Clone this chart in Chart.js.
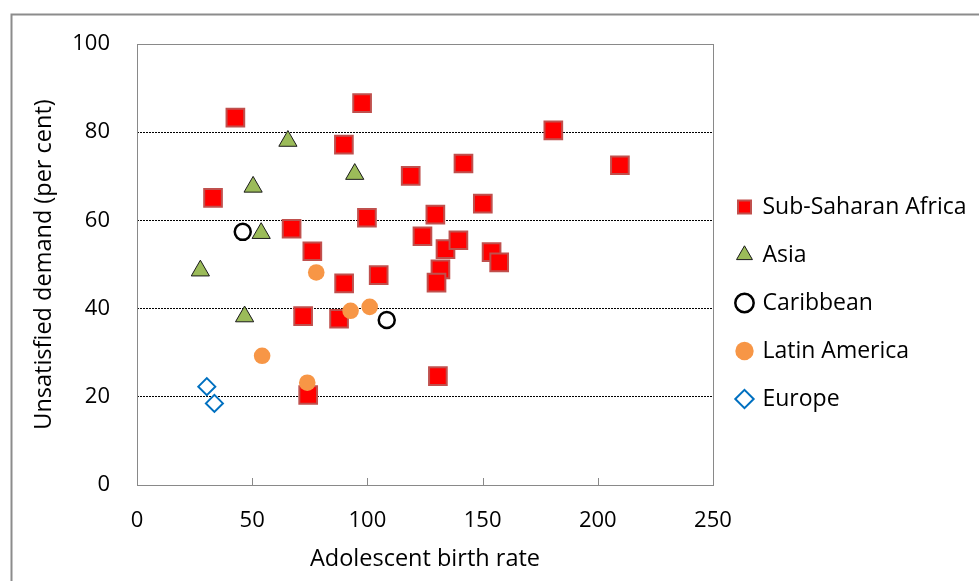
<!DOCTYPE html>
<html>
<head>
<meta charset="utf-8">
<script src="https://cdn.jsdelivr.net/npm/chart.js@4/dist/chart.umd.min.js"></script>
<style>
  html, body { margin: 0; padding: 0; background: #fff; overflow: hidden; }
  #wrap { position: absolute; left: 0; top: 0; width: 979px; height: 581px; }
</style>
</head>
<body>
<div id="wrap"><canvas id="c" width="979" height="581"></canvas></div>
<script>
// ---- Data ----
const seriesNames = ['Sub-Saharan Africa', 'Asia', 'Caribbean', 'Latin America', 'Europe'];

const ssaX = [42.7, 97.7, 89.8, 118.8, 33.0, 67.1, 99.8, 76.1, 123.9, 180.7, 209.6, 141.7, 150.1, 129.5, 133.9, 139.5, 153.9, 157.2, 131.7, 130.0, 130.6, 89.9, 104.9, 72.1, 87.7, 74.3];
const ssaY = [83.3, 86.6, 77.2, 70.1, 65.1, 58.1, 60.6, 53.0, 56.4, 80.4, 72.5, 72.9, 63.8, 61.3, 53.5, 55.5, 52.8, 50.5, 48.9, 45.9, 24.7, 45.7, 47.6, 38.3, 37.7, 20.4];

const asiaX = [65.5, 94.5, 50.4, 53.9, 27.5, 46.7];
const asiaY = [78.0, 70.5, 67.6, 57.1, 48.6, 38.2];

const caribX = [45.9, 108.4];
const caribY = [57.4, 37.4];

const latamX = [77.8, 92.7, 101.0, 54.3, 73.9];
const latamY = [48.2, 39.5, 40.4, 29.3, 23.2];

const europeX = [30.3, 33.6];
const europeY = [22.3, 18.5];

const xTickValues = [0, 50, 100, 150, 200, 250];
const yTickValues = [0, 20, 40, 60, 80, 100];

const toPts = (xs, ys) => xs.map((x, i) => ({x: x, y: ys[i]}));

const FONT = 'Open Sans';
const FS = 22;     // tick labels
const FT = 23.5;   // axis titles
const FL = 23;     // legend

// decoration: outer frame, plot border, inside x tick marks
const frame = {
  id: 'frame',
  beforeDraw(chart) {
    const ctx = chart.ctx;
    ctx.save();
    ctx.fillStyle = '#fff';
    ctx.fillRect(0, 0, chart.width, chart.height);
    ctx.strokeStyle = '#8c8c8c';
    ctx.lineWidth = 2;
    ctx.strokeRect(11.5, 14.5, chart.width + 20, chart.height + 20);
    ctx.restore();
  },
  beforeDatasetsDraw(chart) {
    const ctx = chart.ctx, a = chart.chartArea, xs = chart.scales.x;
    ctx.save();
    ctx.strokeStyle = '#898989';
    ctx.lineWidth = 1;
    ctx.strokeRect(Math.round(a.left) + 0.5, Math.round(a.top) + 0.5, Math.round(a.right - a.left), Math.round(a.bottom - a.top));
    ctx.beginPath();
    xs.ticks.forEach(t => {
      const px = Math.round(xs.getPixelForValue(t.value)) + 0.5;
      ctx.moveTo(px, a.bottom);
      ctx.lineTo(px, a.bottom - 7);
    });
    ctx.stroke();
    ctx.restore();
  }
};

new Chart(document.getElementById('c'), {
  type: 'scatter',
  data: {
    datasets: [
      { label: seriesNames[0], data: toPts(ssaX, ssaY), order: 5,
        pointStyle: 'rect', pointRadius: 12.5, pointHoverRadius: 12.5,
        backgroundColor: '#ff0000', borderColor: '#c0504d', borderWidth: 2 },
      { label: seriesNames[1], data: toPts(asiaX, asiaY), order: 4,
        pointStyle: 'triangle', pointRadius: 10.5, pointHoverRadius: 10.5,
        backgroundColor: '#9bbb59', borderColor: '#1a1a1a', borderWidth: 1 },
      { label: seriesNames[2], data: toPts(caribX, caribY), order: 3,
        pointStyle: 'circle', pointRadius: 8, pointHoverRadius: 8,
        backgroundColor: '#ffffff', borderColor: '#000000', borderWidth: 2.5 },
      { label: seriesNames[3], data: toPts(latamX, latamY), order: 2,
        pointStyle: 'circle', pointRadius: 8.3, pointHoverRadius: 8.3,
        backgroundColor: '#f79646', borderColor: '#f79646', borderWidth: 0 },
      { label: seriesNames[4], data: toPts(europeX, europeY), order: 1,
        pointStyle: 'rectRot', pointRadius: 8.5, pointHoverRadius: 8.5,
        backgroundColor: '#ffffff', borderColor: '#0070c0', borderWidth: 2 }
    ]
  },
  options: {
    responsive: false,
    animation: false,
    devicePixelRatio: 1,
    layout: { padding: { top: 44, left: 0, right: 2.5, bottom: 0 } },
    plugins: {
      tooltip: { enabled: false },
      legend: {
        position: 'right',
        align: 'start',
        maxWidth: 400,
        title: { display: true, text: ' ', padding: { top: 50, bottom: 51.3 }, font: { family: FONT, size: 21 } },
        labels: {
          usePointStyle: true,
          boxWidth: 13, boxHeight: 13,
          padding: 25,
          color: '#000',
          font: { family: FONT, size: FL },
          sort: (a, b) => a.datasetIndex - b.datasetIndex
        }
      }
    },
    scales: {
      x: {
        type: 'linear', min: 0, max: 250,
        afterBuildTicks: s => { s.ticks = xTickValues.map(v => ({value: v})); },
        afterFit: s => { s.height = 96; },
        grid: { display: false, drawTicks: false },
        border: { display: false },
        ticks: { padding: 23, color: '#000', font: { family: FONT, size: FS } },
        title: { display: true, text: 'Adolescent birth rate', color: '#000',
                 font: { family: FONT, size: FT }, padding: { top: 0, bottom: 8 } }
      },
      y: {
        type: 'linear', min: 0, max: 100,
        afterBuildTicks: s => { s.ticks = yTickValues.map(v => ({value: v})); },
        afterFit: s => { s.width = 137; },
        grid: {
          drawTicks: false,
          color: c => (c.tick && (c.tick.value === 0 || c.tick.value === 100)) ? 'rgba(0,0,0,0)' : '#000',
          lineWidth: 1
        },
        border: { display: false, dash: [2, 1] },
        ticks: { padding: 27, color: '#000', font: { family: FONT, size: FS } },
        title: { display: true, text: 'Unsatisfied demand (per cent)', color: '#000',
                 font: { family: FONT, size: FT }, padding: { top: 30, bottom: 0 } }
      }
    }
  },
  plugins: [frame]
});
</script>
</body>
</html>
